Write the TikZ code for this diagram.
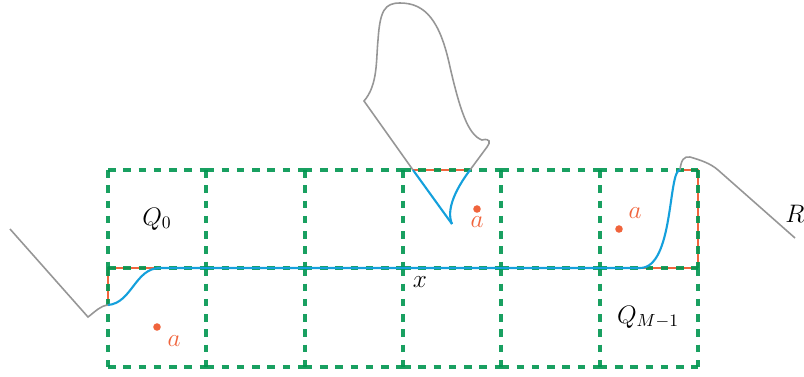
\documentclass[tikz,border=0pt]{standalone}
\usepackage{amsmath}
\usetikzlibrary{positioning}
\definecolor{gridgreen}{RGB}{0,150,80}
\definecolor{pathorange}{RGB}{240,100,60}
\definecolor{pathblue}{RGB}{20,160,220}
\definecolor{pathgray}{RGB}{150,150,150}
\tikzset{
  cell/.style={draw=gridgreen, line width=2.4pt, dash pattern=on 4.3pt off 4.4pt, draw opacity=0.9},
  rough/.style={draw=pathgray, line width=0.9pt},
  smooth/.style={draw=pathblue, line width=1.2pt},
  boxline/.style={draw=pathorange, line width=1.1pt},
  point/.style={circle, fill=pathorange, inner sep=0pt, minimum size=4.3pt},
  alabel/.style={text=pathorange},
}

\begin{document}
\begin{tikzpicture}[x=0.02cm, y=-0.02cm, font=\fontsize{14}{16}\selectfont]
  \useasboundingbox (0,0) rectangle (804,376);

  % boundary pieces under the grid
  \draw[boxline] (108,305) -- (108,268) -- (698,268);
  \draw[boxline] (680,170) -- (698,170) -- (698,268);
  \draw[boxline] (413,170) -- (470,170);

  % grid of cells
  \foreach \i in {0,...,6} {
    \foreach \j in {0,1} {
      \draw[cell] ({108+98.33*\i},{170+98.3*\j}) -- ++(0,98.3);
    }
  }
  \foreach \i in {0,...,5} {
    \foreach \j in {0,1,2} {
      \draw[cell] ({108+98.33*\i},{170+98.3*\j}) -- ++(98.33,0);
    }
  }

  % rough path, left and right
  \coordinate (lstart) at (10,229);
  \coordinate (lbend) at (88,317);
  \coordinate (lin) at (108,305);
  \coordinate (rin) at (680,170);
  \coordinate (rbend) at (718,170);
  \coordinate (rend) at (795,238);
  \draw[rough] (lstart) -- (lbend) .. controls (96,311) and (100,306) .. (lin);
  \draw[rough] (rin) .. controls (681,160) and (684,156) .. (690,157)
    .. controls (700,160) and (710,163) .. (rbend) -- (rend);

  % smoothed path
  \draw[smooth] (lin) .. controls (132,303) and (135,268) .. (160,268)
    -- (640,268) .. controls (674,268) and (668,170) .. (rin);

  % excursion on top
  \coordinate (tl) at (413,170);
  \coordinate (tr) at (470,170);
  \coordinate (tip) at (452,224);
  \draw[rough] (tl) -- (364,101) .. controls (378,85) and (376,60) .. (378,40)
    .. controls (380,10) and (385,3) .. (400,3)
    .. controls (425,3) and (440,20) .. (450,67)
    .. controls (460,110) and (468,135) .. (482,140)
    .. controls (490,138) and (491,142) .. (487,147) -- (tr);
  \draw[smooth] (tl) -- (tip);
  \draw[smooth] (tr) .. controls (455,190) and (446,210) .. (tip);

  % points and labels
  \node[point] (p1) at (157,327) {};
  \node[alabel] (a1) at (174,341) {$a$};
  \node[point] (p2) at (477,209) {};
  \node[alabel] (a2) at (477,222) {$a$};
  \node[point] (p3) at (619,229) {};
  \node[alabel] (a3) at (635,213) {$a$};

  \node (q0) at (157,219) {$Q_0$};
  \node (qm) at (648,317) {$Q_{M-1}$};
  \node (xl) at (420,282) {$x$};
  \node (rl) at (795,214) {$R$};
\end{tikzpicture}
\end{document}
